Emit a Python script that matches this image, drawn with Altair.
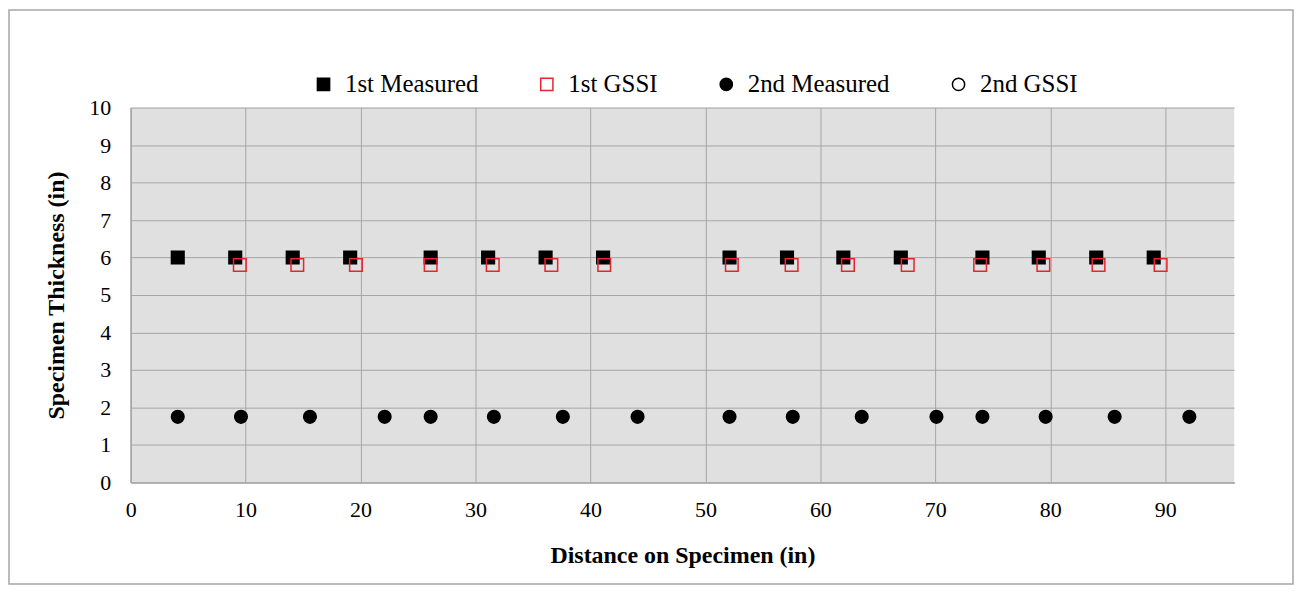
import altair as alt
import pandas as pd

# ---- data ----
series_names = ["1st Measured", "1st GSSI", "2nd Measured", "2nd GSSI"]

m1_x = [4.1, 9.1, 14.1, 19.1, 26.1, 31.1, 36.1, 41.1, 52.1, 57.1, 62.0, 67.0, 74.1, 79.0, 84.0, 89.0]
m1_y = [6, 6, 6, 6, 6, 6, 6, 6, 6, 6, 6, 6, 6, 6, 6, 6]

g1_x = [9.5, 14.5, 19.6, 26.1, 31.5, 36.6, 41.2, 52.3, 57.5, 62.4, 67.6, 73.9, 79.4, 84.2, 89.6]
g1_y = [5.8, 5.8, 5.8, 5.8, 5.8, 5.8, 5.8, 5.8, 5.8, 5.8, 5.8, 5.8, 5.8, 5.8, 5.8]

m2_x = [4.1, 9.6, 15.6, 22.1, 26.1, 31.6, 37.6, 44.1, 52.1, 57.6, 63.6, 70.1, 74.1, 79.6, 85.6, 92.1]
m2_y = [1.75, 1.75, 1.75, 1.75, 1.75, 1.75, 1.75, 1.75, 1.75, 1.75, 1.75, 1.75, 1.75, 1.75, 1.75, 1.75]

g2_x = []
g2_y = []

x_ticks = [0, 10, 20, 30, 40, 50, 60, 70, 80, 90]
y_ticks = [0, 1, 2, 3, 4, 5, 6, 7, 8, 9, 10]

rows = []
for name, xs, ys in zip(series_names, [m1_x, g1_x, m2_x, g2_x], [m1_y, g1_y, m2_y, g2_y]):
    for xv, yv in zip(xs, ys):
        rows.append({"Series": name, "Distance": xv, "Thickness": yv})
df = pd.DataFrame(rows)

FONT = "Liberation Serif"
PLOT_W, PLOT_H = 1107, 376
PAD_L, PAD_T, PAD_R = 123, 99, 60
TOTAL_H = 578
PAD_B = TOTAL_H - PAD_T - PLOT_H

legend = alt.Legend(orient="none", legendX=181, legendY=-36, direction="horizontal", title=None)

points = alt.Chart(df).mark_point(opacity=1, strokeWidth=1.5).encode(
    x=alt.X("Distance:Q",
            scale=alt.Scale(domain=[0, 96], nice=False, zero=True),
            axis=alt.Axis(values=x_ticks, title="Distance on Specimen (in)", format="d", labelFlush=False)),
    y=alt.Y("Thickness:Q",
            scale=alt.Scale(domain=[0, 10], nice=False),
            axis=alt.Axis(values=y_ticks, title="Specimen Thickness (in)", format="d")),
    shape=alt.Shape("Series:N",
                    scale=alt.Scale(domain=series_names, range=["square", "square", "circle", "circle"]),
                    legend=legend),
    fill=alt.Fill("Series:N",
                  scale=alt.Scale(domain=series_names, range=["black", "transparent", "black", "white"]),
                  legend=legend),
    stroke=alt.Stroke("Series:N",
                      scale=alt.Scale(domain=series_names, range=["black", "#e8242c", "black", "black"]),
                      legend=legend),
)

frame_df = pd.DataFrame({"frame": [0]})
frame = alt.Chart(frame_df).mark_rect(fill="white", fillOpacity=0, stroke="#a6a6a6", strokeWidth=1.5).encode(
    x=alt.value(-PAD_L + 1),
    x2=alt.value(PLOT_W + PAD_R - 1),
    y=alt.value(-PAD_T + 1),
    y2=alt.value(PLOT_H + PAD_B - 1),
)

chart = alt.layer(frame, points).properties(
    width=PLOT_W,
    height=PLOT_H,
    autosize=alt.AutoSizeParams(type="none"),
    padding={"left": PAD_L, "top": PAD_T, "right": PAD_R, "bottom": PAD_B},
    background="white",
).configure_view(
    fill="#e0e0e0", stroke=None
).configure_point(
    size=160
).configure_legend(
    labelFont=FONT, labelFontSize=25, labelColor="black", padding=0,
    symbolSize=150, labelOffset=9, columnPadding=56, symbolStrokeWidth=1.5,
).configure_axis(
    labelFont=FONT, labelFontSize=22, labelColor="black",
    titleFont=FONT, titleFontSize=24, titleFontWeight="bold", titleColor="black",
    gridColor="#a6a6a6", gridWidth=1, gridOpacity=1,
    ticks=False, domainColor="#a6a6a6", domainWidth=1.5,
).configure_axisX(
    labelPadding=17, titlePadding=23,
).configure_axisY(
    labelPadding=20, titlePadding=20,
)

chart.save("out.html", embed_options={"renderer": "svg", "actions": False})
